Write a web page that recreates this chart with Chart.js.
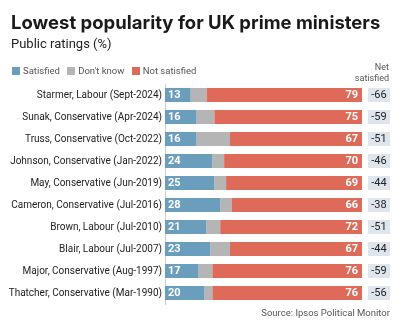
<!DOCTYPE html>
<html>
<head>
<meta charset="utf-8">
<script src="https://cdn.jsdelivr.net/npm/chart.js@4"></script>
<style>
  body { margin: 0; background: #fff; font-family: Inter, "Noto Sans", sans-serif; }
  #wrap { position: relative; width: 400px; height: 330px; overflow: hidden; }
  #chart { position: absolute; left: 0; top: 0; }
  .title { position: absolute; left: 11px; top: 11px; font-size: 18.5px; font-weight: 700; color: #1a1a1a; white-space: nowrap; }
  .sub { position: absolute; left: 11px; top: 36px; font-size: 13px; font-family: Roboto, sans-serif; font-weight: 400; color: #222; }
  .legend { position: absolute; left: 12px; top: 65px; font-size: 9.5px; font-family: Roboto, sans-serif; color: #555; white-space: nowrap; }
  .legend span.sw { display: inline-block; width: 8px; height: 8px; margin-right: 3px; vertical-align: -1px; }
  .legend span.it { margin-right: 5px; }
  .net { position: absolute; right: 11px; top: 62px; font-size: 9px; font-family: Roboto, sans-serif; color: #555; text-align: right; line-height: 11px; }
  .src { position: absolute; right: 10px; top: 307px; font-size: 9.5px; font-family: Roboto, sans-serif; color: #555; }
</style>
</head>
<body>
<div id="wrap">
  <canvas id="chart" width="400" height="330"></canvas>
  <div class="title">Lowest popularity for UK prime ministers</div>
  <div class="sub">Public ratings (%)</div>
  <div class="legend">
    <span class="sw" style="background:#6b9dbd"></span><span class="it">Satisfied</span>
    <span class="sw" style="background:#b5b5b5"></span><span class="it">Don't know</span>
    <span class="sw" style="background:#de6b59"></span><span class="it">Not satisfied</span>
  </div>
  <div class="net">Net<br>satisfied</div>
  <div class="src">Source: Ipsos Political Monitor</div>
</div>
<script>
const labels = [
  'Starmer, Labour (Sept-2024)',
  'Sunak, Conservative (Apr-2024)',
  'Truss, Conservative (Oct-2022)',
  'Johnson, Conservative (Jan-2022)',
  'May, Conservative (Jun-2019)',
  'Cameron, Conservative (Jul-2016)',
  'Brown, Labour (Jul-2010)',
  'Blair, Labour (Jul-2007)',
  'Major, Conservative (Aug-1997)',
  'Thatcher, Conservative (Mar-1990)'
];
const satisfied = [13, 16, 16, 24, 25, 28, 21, 23, 17, 20];
const dontKnow = [8, 9, 17, 6, 6, 6, 7, 10, 7, 4];
const notSatisfied = [79, 75, 67, 70, 69, 66, 72, 67, 76, 76];
const netSatisfied = [-66, -59, -51, -46, -44, -38, -51, -44, -59, -56];

const colors = ['#6b9dbd', '#b5b5b5', '#de6b59'];

// value labels inside bars + net boxes on the right
const valuePlugin = {
  id: 'values',
  afterDatasetsDraw(chart) {
    const ctx = chart.ctx;
    const meta0 = chart.getDatasetMeta(0);
    const meta2 = chart.getDatasetMeta(2);
    ctx.save();
    ctx.font = 'bold 11px Roboto, sans-serif';
    ctx.textBaseline = 'middle';
    ctx.fillStyle = '#fff';
    meta0.data.forEach((bar, i) => {
      ctx.textAlign = 'left';
      ctx.fillText(satisfied[i], bar.base + 3, bar.y + 0.5);
      const r = meta2.data[i];
      ctx.textAlign = 'right';
      ctx.fillText(notSatisfied[i], r.x - 4, r.y + 0.5);
    });
    ctx.font = '11px Roboto, sans-serif';
    meta0.data.forEach((bar, i) => {
      const h = bar.height;
      ctx.fillStyle = '#dfe5ec';
      ctx.fillRect(368, bar.y - h / 2, 22, h);
      ctx.fillStyle = '#222';
      ctx.textAlign = 'center';
      ctx.fillText(netSatisfied[i], 379, bar.y + 0.5);
    });
    ctx.restore();
  }
};

new Chart(document.getElementById('chart'), {
  type: 'bar',
  data: {
    labels: labels,
    datasets: [
      { label: 'Satisfied', data: satisfied, backgroundColor: colors[0] },
      { label: "Don't know", data: dontKnow, backgroundColor: colors[1] },
      { label: 'Not satisfied', data: notSatisfied, backgroundColor: colors[2] }
    ]
  },
  options: {
    indexAxis: 'y',
    responsive: false,
    animation: false,
    layout: { padding: { top: 84, bottom: 26, right: 38, left: 0 } },
    datasets: { bar: { barPercentage: 0.64, categoryPercentage: 1, borderWidth: 0 } },
    scales: {
      x: { stacked: true, min: 0, max: 100, display: false },
      y: {
        stacked: true,
        afterFit(scale) { scale.width = 165; },
        grid: { display: false, drawTicks: false },
        border: { display: true, color: '#cfcfcf', width: 1 },
        ticks: { color: '#222', padding: 3, font: { family: 'Roboto, sans-serif', size: 10 } }
      }
    },
    plugins: {
      legend: { display: false },
      tooltip: { enabled: false }
    }
  },
  plugins: [valuePlugin]
});
</script>
</body>
</html>
